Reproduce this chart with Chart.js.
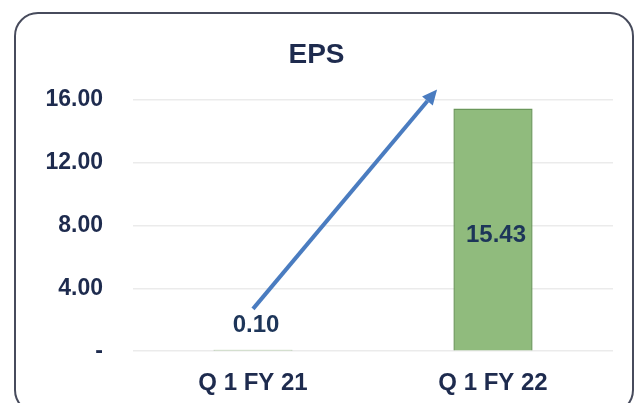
<!DOCTYPE html>
<html>
<head>
<meta charset="utf-8">
<script src="https://cdn.jsdelivr.net/npm/chart.js@4.4.1/dist/chart.umd.min.js"></script>
<style>
  html, body { margin: 0; padding: 0; background: #ffffff; }
  #wrap { position: relative; width: 641px; height: 403px; overflow: hidden; }
  #frame { position: absolute; left: 14px; top: 12px; width: 620px; height: 402px;
           box-sizing: border-box; border: 2px solid #474b5c; border-radius: 24px; pointer-events: none; }
  canvas { position: absolute; left: 0; top: 0; }
</style>
</head>
<body>
<div id="wrap">
  <canvas id="c" width="641" height="403"></canvas>
  <div id="frame"></div>
</div>
<script>
const title = 'EPS';
const categories = ['Q 1 FY 21', 'Q 1 FY 22'];
const epsValues = [0.10, 15.43];
const valueLabels = ['0.10', '15.43'];
const yTickValues = [0, 4, 8, 12, 16];
const yTickLabels = ['-', '4.00', '8.00', '12.00', '16.00'];
// trend arrow, in data terms: [category position, value]
const arrowFrom = [0.0, 2.69];
const arrowTo = [0.767, 16.64];

const navy = '#1e2b4e';
const FONT = 'Arial, "Liberation Sans", sans-serif';

const labelPlugin = {
  id: 'valueLabels',
  afterDatasetsDraw(chart) {
    const ctx = chart.ctx;
    const meta = chart.getDatasetMeta(0);
    ctx.save();
    ctx.font = 'bold 24px ' + FONT;
    ctx.fillStyle = '#1d3559';
    ctx.textAlign = 'center';
    ctx.textBaseline = 'middle';
    meta.data.forEach((bar, i) => {
      const v = epsValues[i];
      let y;
      if (v < 2) y = bar.y - 24;
      else y = (bar.y + bar.base) / 2 + 6;
      ctx.fillText(valueLabels[i], bar.x + 3, y);
    });
    ctx.restore();
  }
};

const arrowPlugin = {
  id: 'trendArrow',
  afterDatasetsDraw(chart) {
    const xs = chart.scales.x, ys = chart.scales.y;
    const x1 = xs.getPixelForValue(arrowFrom[0]), y1 = ys.getPixelForValue(arrowFrom[1]);
    const x2 = xs.getPixelForValue(arrowTo[0]), y2 = ys.getPixelForValue(arrowTo[1]);
    const ctx = chart.ctx;
    const ang = Math.atan2(y2 - y1, x2 - x1);
    const head = 15, hw = 7;
    const bx = x2 - head * Math.cos(ang), by = y2 - head * Math.sin(ang);
    ctx.save();
    ctx.strokeStyle = '#4a7cc0';
    ctx.fillStyle = '#4a7cc0';
    ctx.lineWidth = 4;
    ctx.lineCap = 'butt';
    ctx.beginPath();
    ctx.moveTo(x1, y1);
    ctx.lineTo(bx, by);
    ctx.stroke();
    ctx.beginPath();
    ctx.moveTo(x2, y2);
    ctx.lineTo(bx + hw * Math.sin(ang), by - hw * Math.cos(ang));
    ctx.lineTo(bx - hw * Math.sin(ang), by + hw * Math.cos(ang));
    ctx.closePath();
    ctx.fill();
    ctx.restore();
  }
};

function barFill(context) {
  const chart = context.chart;
  const el = context.element;
  if (!chart.chartArea || !el || !el.width) return '#90bb7d';
  const g = chart.ctx.createLinearGradient(el.x - el.width / 2, 0, el.x + el.width / 2, 0);
  g.addColorStop(0, '#82ae70');
  g.addColorStop(0.12, '#94bf82');
  g.addColorStop(0.5, '#90bb7d');
  g.addColorStop(0.88, '#94bf82');
  g.addColorStop(1, '#80ac6d');
  return g;
}

new Chart(document.getElementById('c'), {
  type: 'bar',
  data: {
    labels: categories,
    datasets: [{
      data: epsValues,
      backgroundColor: barFill,
      borderColor: '#6a975a',
      borderWidth: 1.5,
      categoryPercentage: 1.0,
      barPercentage: 0.33
    }]
  },
  options: {
    responsive: false,
    animation: false,
    devicePixelRatio: 1,
    layout: { padding: { left: 20, right: 28, top: 0, bottom: -13 } },
    plugins: {
      legend: { display: false },
      tooltip: { enabled: false },
      title: {
        display: true,
        text: title,
        color: navy,
        font: { family: FONT, size: 28, weight: 'bold' },
        padding: { top: 38, bottom: 28 }
      }
    },
    scales: {
      x: {
        grid: { display: false, drawTicks: false },
        border: { display: false },
        ticks: { color: navy, font: { family: FONT, size: 24, weight: 'bold' }, padding: 18 }
      },
      y: {
        min: 0, max: 16,
        afterFit(scale) { scale.width = 113; },
        afterBuildTicks(scale) { scale.ticks = yTickValues.map(v => ({ value: v })); },
        grid: { color: '#ebebeb', lineWidth: 1.5, drawTicks: false },
        border: { display: false },
        ticks: {
          color: navy,
          font: { family: FONT, size: 23, weight: 'bold' },
          padding: 30,
          callback: (v) => { const i = yTickValues.indexOf(v); return i >= 0 ? yTickLabels[i] : ''; }
        }
      }
    }
  },
  plugins: [labelPlugin, arrowPlugin]
});
</script>
</body>
</html>
